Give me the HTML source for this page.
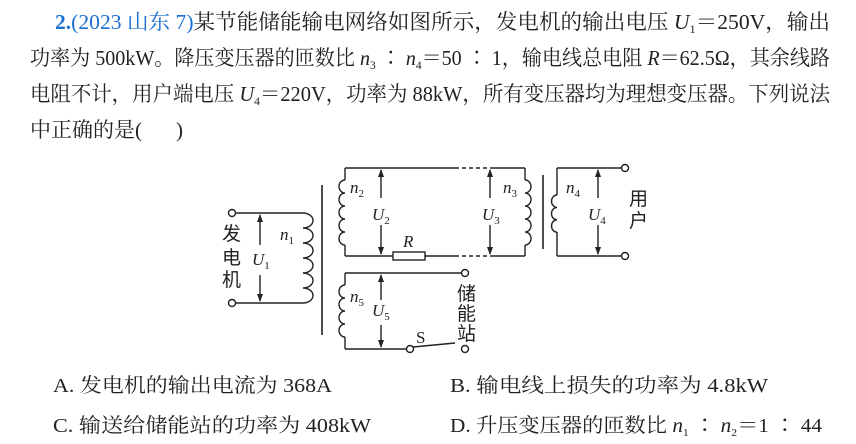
<!DOCTYPE html>
<html><head><meta charset="utf-8"><style>
html,body{margin:0;padding:0;background:#fff;}
svg{display:block;}
.t{font-family:"Liberation Serif","Noto Serif CJK SC","Noto Sans CJK SC",serif;font-size:21px;fill:#222;}
.o{font-family:"Liberation Serif","Noto Serif CJK SC","Noto Sans CJK SC",serif;font-size:20px;fill:#222;}
.d{font-family:"Liberation Serif","Noto Sans CJK SC",serif;font-size:17px;fill:#222;}
.c{font-family:"Liberation Serif","Noto Sans CJK SC",serif;font-size:19px;fill:#222;}
.i{font-style:italic;}
</style></head><body>
<svg width="856" height="444" viewBox="0 0 856 444" xmlns="http://www.w3.org/2000/svg">
<defs>
<marker id="a" markerWidth="8" markerHeight="8" refX="7" refY="4" orient="auto" markerUnits="userSpaceOnUse"><path d="M0,1 L8,4 L0,7 z" fill="#222"/></marker>
</defs>
<text class="t" y="29" x="55" textLength="775" lengthAdjust="spacingAndGlyphs"><tspan fill="#1a6fd1" font-weight="bold">2.</tspan><tspan fill="#1a6fd1">(2023 山东 7)</tspan>某节能储能输电网络如图所示，发电机的输出电压 <tspan class="i">U</tspan><tspan font-size="12" dy="4">1</tspan><tspan dy="-4">＝250V，输出</tspan></text>
<text class="t" x="30" y="65" textLength="800" lengthAdjust="spacingAndGlyphs">功率为 500kW。降压变压器的匝数比 <tspan class="i">n</tspan><tspan font-size="12" dy="4">3</tspan><tspan dy="-4"> ∶ </tspan><tspan class="i">n</tspan><tspan font-size="12" dy="4">4</tspan><tspan dy="-4">＝50 ∶ 1，输电线总电阻 </tspan><tspan class="i">R</tspan>＝62.5Ω，其余线路</text>
<text class="t" x="30" y="101" textLength="800" lengthAdjust="spacingAndGlyphs">电阻不计，用户端电压 <tspan class="i">U</tspan><tspan font-size="12" dy="4">4</tspan><tspan dy="-4">＝220V，功率为 88kW，所有变压器均为理想变压器。下列说法</tspan></text>
<text class="t" x="30" y="137">中正确的是(</text>
<text class="t" x="176" y="137">)</text>

<g stroke="#222" stroke-width="1.4" fill="none">
<circle cx="232" cy="213" r="3.5" fill="#fff"/><circle cx="232" cy="303" r="3.5" fill="#fff"/>
<path d="M235.5,213 H303 M235.5,303 H303"/>
<path d="M303,213 a10,7.5 0 0 1 0,15 a10,7.5 0 0 1 0,15 a10,7.5 0 0 1 0,15 a10,7.5 0 0 1 0,15 a10,7.5 0 0 1 0,15 a10,7.5 0 0 1 0,15"/>
<line x1="260" y1="245" x2="260" y2="215" marker-end="url(#a)"/>
<line x1="260" y1="275" x2="260" y2="301" marker-end="url(#a)"/>
<line x1="322" y1="185" x2="322" y2="335" stroke-width="1.6"/>
<path d="M345,168 V180 M345,245 V256 M345,168 H455 M490,168 H525 M345,256 H393 M425,256 H455 M490,256 H525 M525,168 V180 M525,245 V256"/>
<path d="M455,168 H490 M455,256 H490" stroke-dasharray="4,3"/>
<path d="M345,180 a6,6.5 0 0 0 0,13 a6,6.5 0 0 0 0,13 a6,6.5 0 0 0 0,13 a6,6.5 0 0 0 0,13 a6,6.5 0 0 0 0,13"/>
<path d="M525,180 a6,6.5 0 0 1 0,13 a6,6.5 0 0 1 0,13 a6,6.5 0 0 1 0,13 a6,6.5 0 0 1 0,13 a6,6.5 0 0 1 0,13"/>
<rect x="393" y="252" width="32" height="8" fill="#fff"/>
<line x1="381" y1="198" x2="381" y2="170" marker-end="url(#a)"/>
<line x1="381" y1="225" x2="381" y2="254" marker-end="url(#a)"/>
<line x1="490" y1="198" x2="490" y2="170" marker-end="url(#a)"/>
<line x1="490" y1="225" x2="490" y2="254" marker-end="url(#a)"/>
<line x1="543" y1="175" x2="543" y2="249" stroke-width="1.6"/>
<path d="M557,168 V195 M557,232 V256 M557,168 H621.5 M557,256 H621.5"/>
<path d="M557,195 a5.5,6.2 0 0 0 0,12.4 a5.5,6.2 0 0 0 0,12.4 a5.5,6.2 0 0 0 0,12.4"/>
<circle cx="625" cy="168" r="3.5" fill="#fff"/><circle cx="625" cy="256" r="3.5" fill="#fff"/>
<line x1="598" y1="198" x2="598" y2="170" marker-end="url(#a)"/>
<line x1="598" y1="225" x2="598" y2="254" marker-end="url(#a)"/>
<path d="M345,273 V285 M345,337 V349 M345,273 H461.5 M345,349 H406.5"/>
<path d="M345,285 a6,6.5 0 0 0 0,13 a6,6.5 0 0 0 0,13 a6,6.5 0 0 0 0,13 a6,6.5 0 0 0 0,13"/>
<circle cx="465" cy="273" r="3.5" fill="#fff"/><circle cx="465" cy="349" r="3.5" fill="#fff"/>
<circle cx="410" cy="349" r="3.5" fill="#fff"/>
<path d="M413,347 L455,343"/>
<line x1="381" y1="300" x2="381" y2="275" marker-end="url(#a)"/>
<line x1="381" y1="325" x2="381" y2="347" marker-end="url(#a)"/>
</g>
<g class="d">
<text x="280" y="240" class="i">n<tspan font-size="11" dy="4" font-style="normal">1</tspan></text>
<text x="252" y="265" class="i">U<tspan font-size="11" dy="4" font-style="normal">1</tspan></text>
<text x="350" y="193" class="i">n<tspan font-size="11" dy="4" font-style="normal">2</tspan></text>
<text x="372" y="220" class="i">U<tspan font-size="11" dy="4" font-style="normal">2</tspan></text>
<text x="503" y="193" class="i">n<tspan font-size="11" dy="4" font-style="normal">3</tspan></text>
<text x="482" y="220" class="i">U<tspan font-size="11" dy="4" font-style="normal">3</tspan></text>
<text x="566" y="193" class="i">n<tspan font-size="11" dy="4" font-style="normal">4</tspan></text>
<text x="588" y="220" class="i">U<tspan font-size="11" dy="4" font-style="normal">4</tspan></text>
<text x="350" y="302" class="i">n<tspan font-size="11" dy="4" font-style="normal">5</tspan></text>
<text x="372" y="316" class="i">U<tspan font-size="11" dy="4" font-style="normal">5</tspan></text>
<text x="403" y="247" class="i">R</text>
<text x="416" y="343">S</text>
</g>
<g class="c">
<text x="222" y="240">发</text><text x="222" y="264">电</text><text x="222" y="286">机</text>
<text x="629" y="205">用</text><text x="629" y="227">户</text>
<text x="457" y="300">储</text><text x="457" y="320">能</text><text x="457" y="340">站</text>
</g>
<text class="o" x="53" y="392" textLength="279" lengthAdjust="spacingAndGlyphs">A. 发电机的输出电流为 368A</text>
<text class="o" x="450" y="392" textLength="318" lengthAdjust="spacingAndGlyphs">B. 输电线上损失的功率为 4.8kW</text>
<text class="o" x="53" y="432" textLength="318" lengthAdjust="spacingAndGlyphs">C. 输送给储能站的功率为 408kW</text>
<text class="o" x="450" y="432" textLength="372" lengthAdjust="spacingAndGlyphs">D. 升压变压器的匝数比 <tspan class="i">n</tspan><tspan font-size="11" dy="4">1</tspan><tspan dy="-4"> ∶ </tspan><tspan class="i">n</tspan><tspan font-size="11" dy="4">2</tspan><tspan dy="-4">＝1 ∶ 44</tspan></text>
</svg>
</body></html>
